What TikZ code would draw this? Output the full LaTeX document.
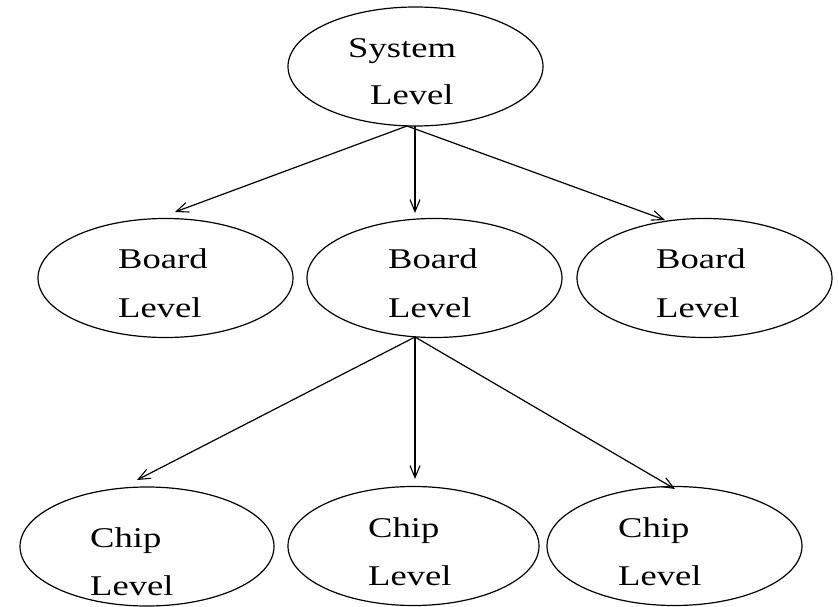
\documentclass[tikz,border=0pt]{standalone}
\usepackage{fontspec}
\setmainfont[FakeStretch=1.28]{Liberation Serif}
\usetikzlibrary{shapes.geometric,arrows.meta}
\begin{document}
\begin{tikzpicture}[x=1pt,y=-1pt,
  lvl/.style={draw,ellipse,line width=1.2pt,inner sep=0pt,minimum width=255pt,minimum height=119pt},
  txt/.style={anchor=base west,inner sep=0pt,font=\fontsize{28.6}{34}\selectfont},
  link/.style={line width=1.2pt,-{Straight Barb[length=12pt,width=10pt,line width=1.1pt]}}]
\useasboundingbox (0,0) rectangle (839,607);
% ellipses
\node[lvl] (sys) at (415.5,66.5) {};
\node[lvl] (b1) at (165.5,278) {};
\node[lvl] (b2) at (434.5,278) {};
\node[lvl] (b3) at (704.5,278) {};
\node[lvl,minimum width=254pt] (c1) at (147,546.5) {};
\node[lvl,minimum width=251pt] (c2) at (413.5,546) {};
\node[lvl] (c3) at (674.5,546) {};
% labels
\node[txt] (sysA) at (348,58) {System};
\node[txt] (sysB) at (370,105) {Level};
\node[txt] (b1A) at (118,269) {Board};
\node[txt] (b1B) at (118,317) {Level};
\node[txt] (b2A) at (388,269) {Board};
\node[txt] (b2B) at (388,317) {Level};
\node[txt] (b3A) at (656,269) {Board};
\node[txt] (b3B) at (656,317) {Level};
\node[txt] (c1A) at (90,547) {Chip};
\node[txt] (c1B) at (90,595) {Level};
\node[txt] (c2A) at (368,537) {Chip};
\node[txt] (c2B) at (368,585) {Level};
\node[txt] (c3A) at (618,537) {Chip};
\node[txt] (c3B) at (618,585) {Level};
% connector ends
\coordinate (s0) at (407,126);
\coordinate (s1) at (415,126);
\coordinate (b1t) at (175,212);
\coordinate (b2t) at (415,213);
\coordinate (b3t) at (665,220);
\coordinate (m0) at (415,337);
\coordinate (c1t) at (137,480);
\coordinate (c2t) at (415,479);
\coordinate (c3t) at (675,489);
\draw[link] (s0) -- (b1t);
\draw[link] (s1) -- (b2t);
\draw[link] (s0) -- (b3t);
\draw[link] (m0) -- (c1t);
\draw[link] (m0) -- (c2t);
\draw[link] (m0) -- (c3t);
\end{tikzpicture}
\end{document}
